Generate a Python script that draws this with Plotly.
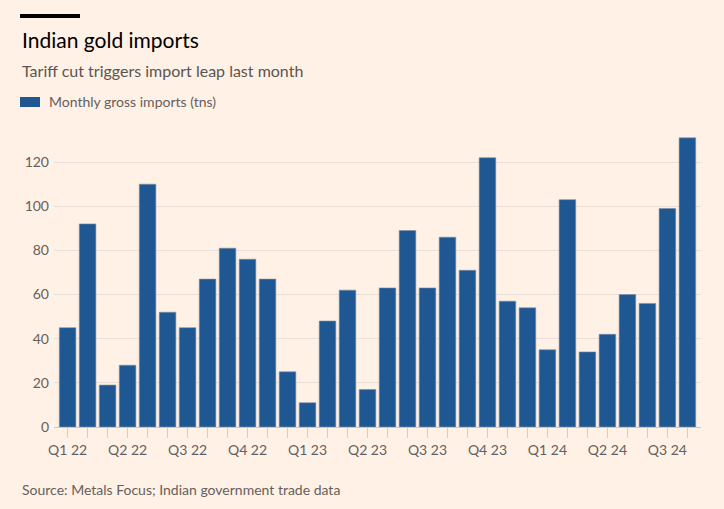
import plotly.graph_objects as go

months = [f"{y}-{m:02d}" for y in (2022, 2023, 2024) for m in range(1, 13)][:32]
imports_tns = [45, 92, 19, 28, 110, 52, 45, 67, 81, 76, 67, 25,
               11, 48, 62, 17, 63, 89, 63, 86, 71, 122, 57, 54,
               35, 103, 34, 42, 60, 56, 99, 131]
quarter_labels = ["Q1 22", "", "", "Q2 22", "", "", "Q3 22", "", "", "Q4 22", "", "",
                  "Q1 23", "", "", "Q2 23", "", "", "Q3 23", "", "", "Q4 23", "", "",
                  "Q1 24", "", "", "Q2 24", "", "", "Q3 24", ""]
y_ticks = [0, 20, 40, 60, 80, 100, 120]

W, H = 724, 509
L, R, T, B = 54, 23, 129, 82
PW, PH = W - L - R, H - T - B
FONT = "Lato"
BG = "#FFF1E5"
BAR = "#1F5792"


def px(x):
    return (x - L) / PW


def py(y):
    return (H - B - y) / PH


fig = go.Figure()
fig.add_trace(go.Bar(
    x=list(range(len(months))), y=imports_tns,
    marker=dict(color=BAR, line=dict(color="#7f8fa3", width=0.6)),
    name="Monthly gross imports (tns)",
    hovertext=months,
))

fig.update_layout(
    width=W, height=H,
    margin=dict(l=L, r=R, t=T, b=B),
    paper_bgcolor=BG, plot_bgcolor=BG,
    showlegend=False,
    bargap=0.17,
    font=dict(family=FONT, color="#66605C", size=14),
    xaxis=dict(
        range=[-0.68, len(months) - 0.32],
        tickvals=list(range(len(months))), ticktext=quarter_labels,
        ticks="outside", ticklen=10, tickcolor="#D9CEC4", tickwidth=1,
        showgrid=False, zeroline=False, showline=False,
        tickfont=dict(size=14, color="#66605C"),
        fixedrange=True,
    ),
    yaxis=dict(
        range=[0, 135], tickvals=y_ticks,
        showgrid=True, gridcolor="#E9DFD6", gridwidth=1,
        zeroline=True, zerolinecolor="#CFC5BC", zerolinewidth=1,
        ticks="", ticklabelstandoff=4,
        tickfont=dict(size=14, color="#66605C"),
    ),
    shapes=[
        dict(type="rect", xref="paper", yref="paper",
             x0=px(20), x1=px(80), y0=py(18), y1=py(14),
             fillcolor="#000000", line=dict(width=0)),
        dict(type="rect", xref="paper", yref="paper",
             x0=px(20), x1=px(40), y0=py(107), y1=py(97),
             fillcolor=BAR, line=dict(width=0)),
    ],
    annotations=[
        dict(text="Indian gold imports", xref="paper", yref="paper",
             x=px(20), y=py(39), xanchor="left", yanchor="middle",
             showarrow=False, font=dict(size=21, color="#000000", family=FONT)),
        dict(text="Tariff cut triggers import leap last month", xref="paper", yref="paper",
             x=px(20), y=py(71), xanchor="left", yanchor="middle",
             showarrow=False, font=dict(size=16, color="#5A5550", family=FONT)),
        dict(text="Monthly gross imports (tns)", xref="paper", yref="paper",
             x=px(47), y=py(102), xanchor="left", yanchor="middle",
             showarrow=False, font=dict(size=14, color="#66605C", family=FONT)),
        dict(text="Source: Metals Focus; Indian government trade data", xref="paper", yref="paper",
             x=px(20), y=py(489), xanchor="left", yanchor="middle",
             showarrow=False, font=dict(size=14, color="#66605C", family=FONT)),
    ],
)

fig.write_html(
    "out.html",
    config={"displayModeBar": False},
    post_script="document.body.style.margin='0';document.body.style.padding='0';"
                "document.body.style.background='#FFF1E5';"
                "document.documentElement.style.background='#FFF1E5';",
)
